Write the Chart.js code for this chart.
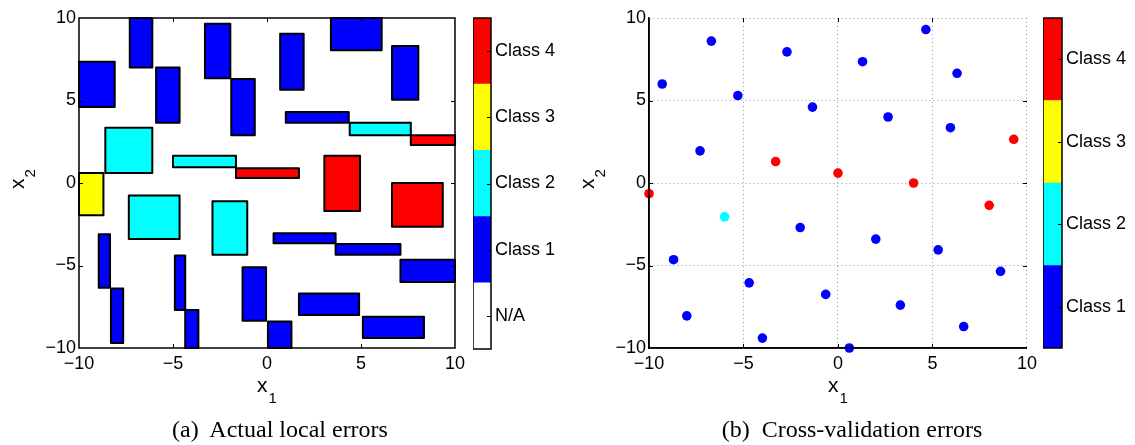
<!DOCTYPE html>
<html>
<head>
<meta charset="utf-8">
<script src="https://cdn.jsdelivr.net/npm/chart.js@4.4.1/dist/chart.umd.min.js"></script>
<style>
  body { margin: 0; background: #fff; }
  #wrap { position: relative; width: 1135px; height: 445px; overflow: hidden; }
  canvas { position: absolute; top: 0; }
  .cap { position: absolute; top: 417px; font-family: "Liberation Serif", serif; font-size: 24px; line-height: 24px; text-align: center; color: #000; white-space: nowrap; }
</style>
</head>
<body>
<div id="wrap">
  <canvas id="boxChart" width="470" height="445" style="left:0px"></canvas>
  <canvas id="boxBar" width="94" height="445" style="left:473px"></canvas>
  <canvas id="cvChart" width="475" height="445" style="left:567px"></canvas>
  <canvas id="cvBar" width="92" height="445" style="left:1043px"></canvas>
  <div class="cap" style="left:0px;width:560px">(a)&nbsp; Actual local errors</div>
  <div class="cap" style="left:567px;width:570px">(b)&nbsp; Cross-validation errors</div>
</div>
<script>
// class 0 = N/A, 1..4 = Class 1..4
let classColors = ["#ffffff", "#0000ff", "#00ffff", "#ffff00", "#ff0000"];
let boxBarLabels = ["N/A", "Class 1", "Class 2", "Class 3", "Class 4"];
let cvBarLabels = ["Class 1", "Class 2", "Class 3", "Class 4"];
let axisMin = -10;
let axisMax = 10;
let axisStep = 5;

// panel (a): regions, x range, y range, class
let boxX0 = [-10, -7.3, -5.9, -3.3, -1.9, 0.7, 3.4, 6.65, 1.0, 4.4, 7.65, -8.6, -5.0, -1.65, -10,
  3.05, 6.65, -7.35, -2.9, 0.35, 3.65, 7.1, -8.95, -8.3, -4.9, -4.35, -1.3, 0.05, 1.7, 5.1];
let boxX1 = [-8.1, -6.1, -4.65, -1.95, -0.65, 1.95, 6.1, 8.05, 4.35, 7.65, 10, -6.1, -1.65, 1.7, -8.7,
  4.95, 9.35, -4.65, -1.05, 3.65, 7.1, 10, -8.35, -7.65, -4.35, -3.65, -0.05, 1.3, 4.9, 8.35];
let boxY0 = [4.6, 7.0, 3.65, 6.35, 2.9, 5.65, 8.05, 5.05, 3.65, 2.9, 2.3, 0.6, 0.95, 0.3, -1.95,
  -1.7, -2.65, -3.4, -4.35, -3.65, -4.35, -6.0, -6.35, -9.7, -7.7, -10, -8.35, -10, -8.0, -9.4];
let boxY1 = [7.35, 10, 7.0, 9.65, 6.3, 9.05, 10, 8.3, 4.3, 3.65, 2.9, 3.35, 1.65, 0.9, 0.6,
  1.65, 0, -0.75, -1.1, -3.05, -3.7, -4.65, -3.1, -6.4, -4.4, -7.7, -5.1, -8.4, -6.7, -8.1];
let boxClass = [1, 1, 1, 1, 1, 1, 1, 1, 1, 2, 4, 2, 2, 4, 3,
  4, 4, 2, 2, 1, 1, 1, 1, 1, 1, 1, 1, 1, 1, 1];

// panel (b): validation points
let cvX = [-9.3, -6.7, -5.3, -2.7, -1.35, -7.3, -3.3, 0, -10, 4.65, 1.3, 6.3, 2.65, 5.95, 9.3,
  4.0, -6.0, -2.0, -8.7, -4.7, -0.65, -8.0, -4.0, 0.6, 8.0, 2.0, 5.3, 8.6, 3.3, 6.65];
let cvY = [6.0, 8.6, 5.3, 7.95, 4.6, 1.95, 1.3, 0.6, -0.65, 9.3, 7.35, 6.65, 4.0, 3.35, 2.65,
  0, -2.05, -2.7, -4.65, -6.05, -6.75, -8.05, -9.4, -10, -1.35, -3.4, -4.05, -5.35, -7.4, -8.7];
let cvClass = [1, 1, 1, 1, 1, 1, 4, 4, 4, 1, 1, 1, 1, 1, 4,
  4, 2, 1, 1, 1, 1, 1, 1, 1, 4, 1, 1, 1, 1, 1];

const sans = "'Liberation Sans', Arial, sans-serif";
const tickFont = { family: sans, size: 18 };
const fmt = (v) => String(v).replace("-", "\u2212");

function drawSub(ctx, base, sub, cx, baseline) {
  ctx.font = "21px " + sans;
  const w1 = ctx.measureText(base).width;
  ctx.font = "15px " + sans;
  const w2 = ctx.measureText(sub).width;
  const start = cx - (w1 + w2 + 1) / 2;
  ctx.textAlign = "left";
  ctx.textBaseline = "alphabetic";
  ctx.font = "21px " + sans;
  ctx.fillText(base, start, baseline);
  ctx.font = "15px " + sans;
  ctx.fillText(sub, start + w1 + 1, baseline + 11);
}

// box (or left/bottom axis), inward ticks and axis titles
const framePlugin = {
  id: "frame",
  afterDraw(chart, args, opts) {
    const { ctx, chartArea: a, scales: { x, y } } = chart;
    ctx.save();
    ctx.strokeStyle = "#000";
    ctx.lineWidth = 1.5;
    if (opts.box) {
      ctx.strokeRect(a.left, a.top, a.width, a.height);
    } else {
      ctx.beginPath();
      ctx.moveTo(a.left, a.top);
      ctx.lineTo(a.left, a.bottom);
      ctx.lineTo(a.right, a.bottom);
      ctx.stroke();
    }
    ctx.lineWidth = 1;
    ctx.beginPath();
    x.ticks.forEach((t) => {
      if (t.value <= axisMin || t.value >= axisMax) return;
      const px = Math.round(x.getPixelForValue(t.value)) + 0.5;
      ctx.moveTo(px, a.bottom); ctx.lineTo(px, a.bottom - 4);
      ctx.moveTo(px, a.top); ctx.lineTo(px, a.top + 4);
    });
    y.ticks.forEach((t) => {
      if (t.value <= axisMin || t.value >= axisMax) return;
      const py = Math.round(y.getPixelForValue(t.value)) + 0.5;
      ctx.moveTo(a.left, py); ctx.lineTo(a.left + 4, py);
      ctx.moveTo(a.right, py); ctx.lineTo(a.right - 4, py);
    });
    ctx.stroke();

    ctx.fillStyle = "#000";
    drawSub(ctx, "x", "1", (a.left + a.right) / 2, a.bottom + 44);
    ctx.translate(a.left - 55, (a.top + a.bottom) / 2 - 4);
    ctx.rotate(-Math.PI / 2);
    drawSub(ctx, "x", "2", 0, 0);
    ctx.restore();
  },
};

const boxPlugin = {
  id: "boxes",
  beforeDatasetsDraw(chart) {
    const { ctx, scales: { x, y } } = chart;
    ctx.save();
    ctx.lineWidth = 2;
    ctx.strokeStyle = "#000";
    ctx.lineJoin = "round";
    boxX0.forEach((x0, i) => {
      const l = x.getPixelForValue(x0);
      const r = x.getPixelForValue(boxX1[i]);
      const t = y.getPixelForValue(boxY1[i]);
      const b = y.getPixelForValue(boxY0[i]);
      ctx.fillStyle = classColors[boxClass[i]];
      ctx.fillRect(l, t, r - l, b - t);
      ctx.strokeRect(l, t, r - l, b - t);
    });
    ctx.restore();
  },
};

const barFrame = {
  id: "barFrame",
  afterDraw(chart) {
    const { ctx, chartArea: a, scales: { y } } = chart;
    ctx.save();
    ctx.strokeStyle = "#000";
    ctx.lineWidth = 1.5;
    ctx.strokeRect(a.left, a.top, a.width, a.height);
    ctx.lineWidth = 1;
    ctx.beginPath();
    y.ticks.forEach((t) => {
      const py = Math.round(y.getPixelForValue(t.value)) + 0.5;
      ctx.moveTo(a.right, py); ctx.lineTo(a.right - 4, py);
    });
    ctx.stroke();
    ctx.restore();
  },
};

function axisOptions(padding, grid) {
  return {
    type: "linear",
    min: axisMin,
    max: axisMax,
    ticks: { stepSize: axisStep, font: tickFont, color: "#000", padding: padding, callback: (v) => fmt(v) },
    grid: grid
      ? { display: true, color: "#9a9a9a", lineWidth: 1, drawTicks: false }
      : { display: false, drawTicks: false },
    border: grid
      ? { display: true, color: "#000", width: 1.5, dash: [1, 3] }
      : { display: false },
  };
}

function mainOptions(yWidth, rightPad, grid) {
  const x = axisOptions(5, grid);
  x.afterFit = (s) => { s.height = 97; };
  const y = axisOptions(3, grid);
  y.afterFit = (s) => { s.width = yWidth; };
  return {
    responsive: false,
    animation: false,
    events: [],
    layout: { padding: { top: 18, right: rightPad, left: 0, bottom: 0 } },
    plugins: { legend: { display: false }, tooltip: { enabled: false }, frame: { box: !grid } },
    scales: { x: x, y: y },
  };
}

new Chart(document.querySelector("#boxChart"), {
  type: "scatter",
  data: { datasets: [] },
  options: mainOptions(79, 13, false),
  plugins: [boxPlugin, framePlugin],
});

new Chart(document.querySelector("#cvChart"), {
  type: "scatter",
  data: {
    datasets: [
      {
        data: cvX.map((x, i) => ({ x: x, y: cvY[i] })),
        pointRadius: 4.8,
        pointBorderWidth: 0,
        pointBackgroundColor: cvClass.map((c) => classColors[c]),
        clip: false,
      },
    ],
  },
  options: mainOptions(82, 13, true),
  plugins: [framePlugin],
});

function colorBar(id, labels, colors, barWidth, bottomPad) {
  const canvas = document.querySelector(id);
  new Chart(canvas, {
    type: "bar",
    data: {
      labels: [""],
      datasets: labels.map((l, i) => ({
        label: l,
        data: [1],
        backgroundColor: colors[i],
        borderWidth: 0,
        barPercentage: 1,
        categoryPercentage: 1,
      })),
    },
    options: {
      responsive: false,
      animation: false,
      events: [],
      layout: { padding: { top: 18, bottom: bottomPad, left: 0, right: 0 } },
      plugins: { legend: { display: false }, tooltip: { enabled: false } },
      scales: {
        x: { display: false, stacked: true },
        y: {
          stacked: true,
          position: "right",
          min: 0,
          max: labels.length,
          afterFit: (s) => { s.width = canvas.width - barWidth; },
          afterBuildTicks: (s) => { s.ticks = labels.map((l, i) => ({ value: i + 0.5 })); },
          ticks: { font: tickFont, color: "#000", padding: 4, callback: (v) => labels[Math.floor(v)] },
          grid: { display: false, drawTicks: false },
          border: { display: false },
        },
      },
    },
    plugins: [barFrame],
  });
}

colorBar("#boxBar", boxBarLabels, classColors, 18, 96);
colorBar("#cvBar", cvBarLabels, classColors.slice(1), 19, 97);
</script>
</body>
</html>
